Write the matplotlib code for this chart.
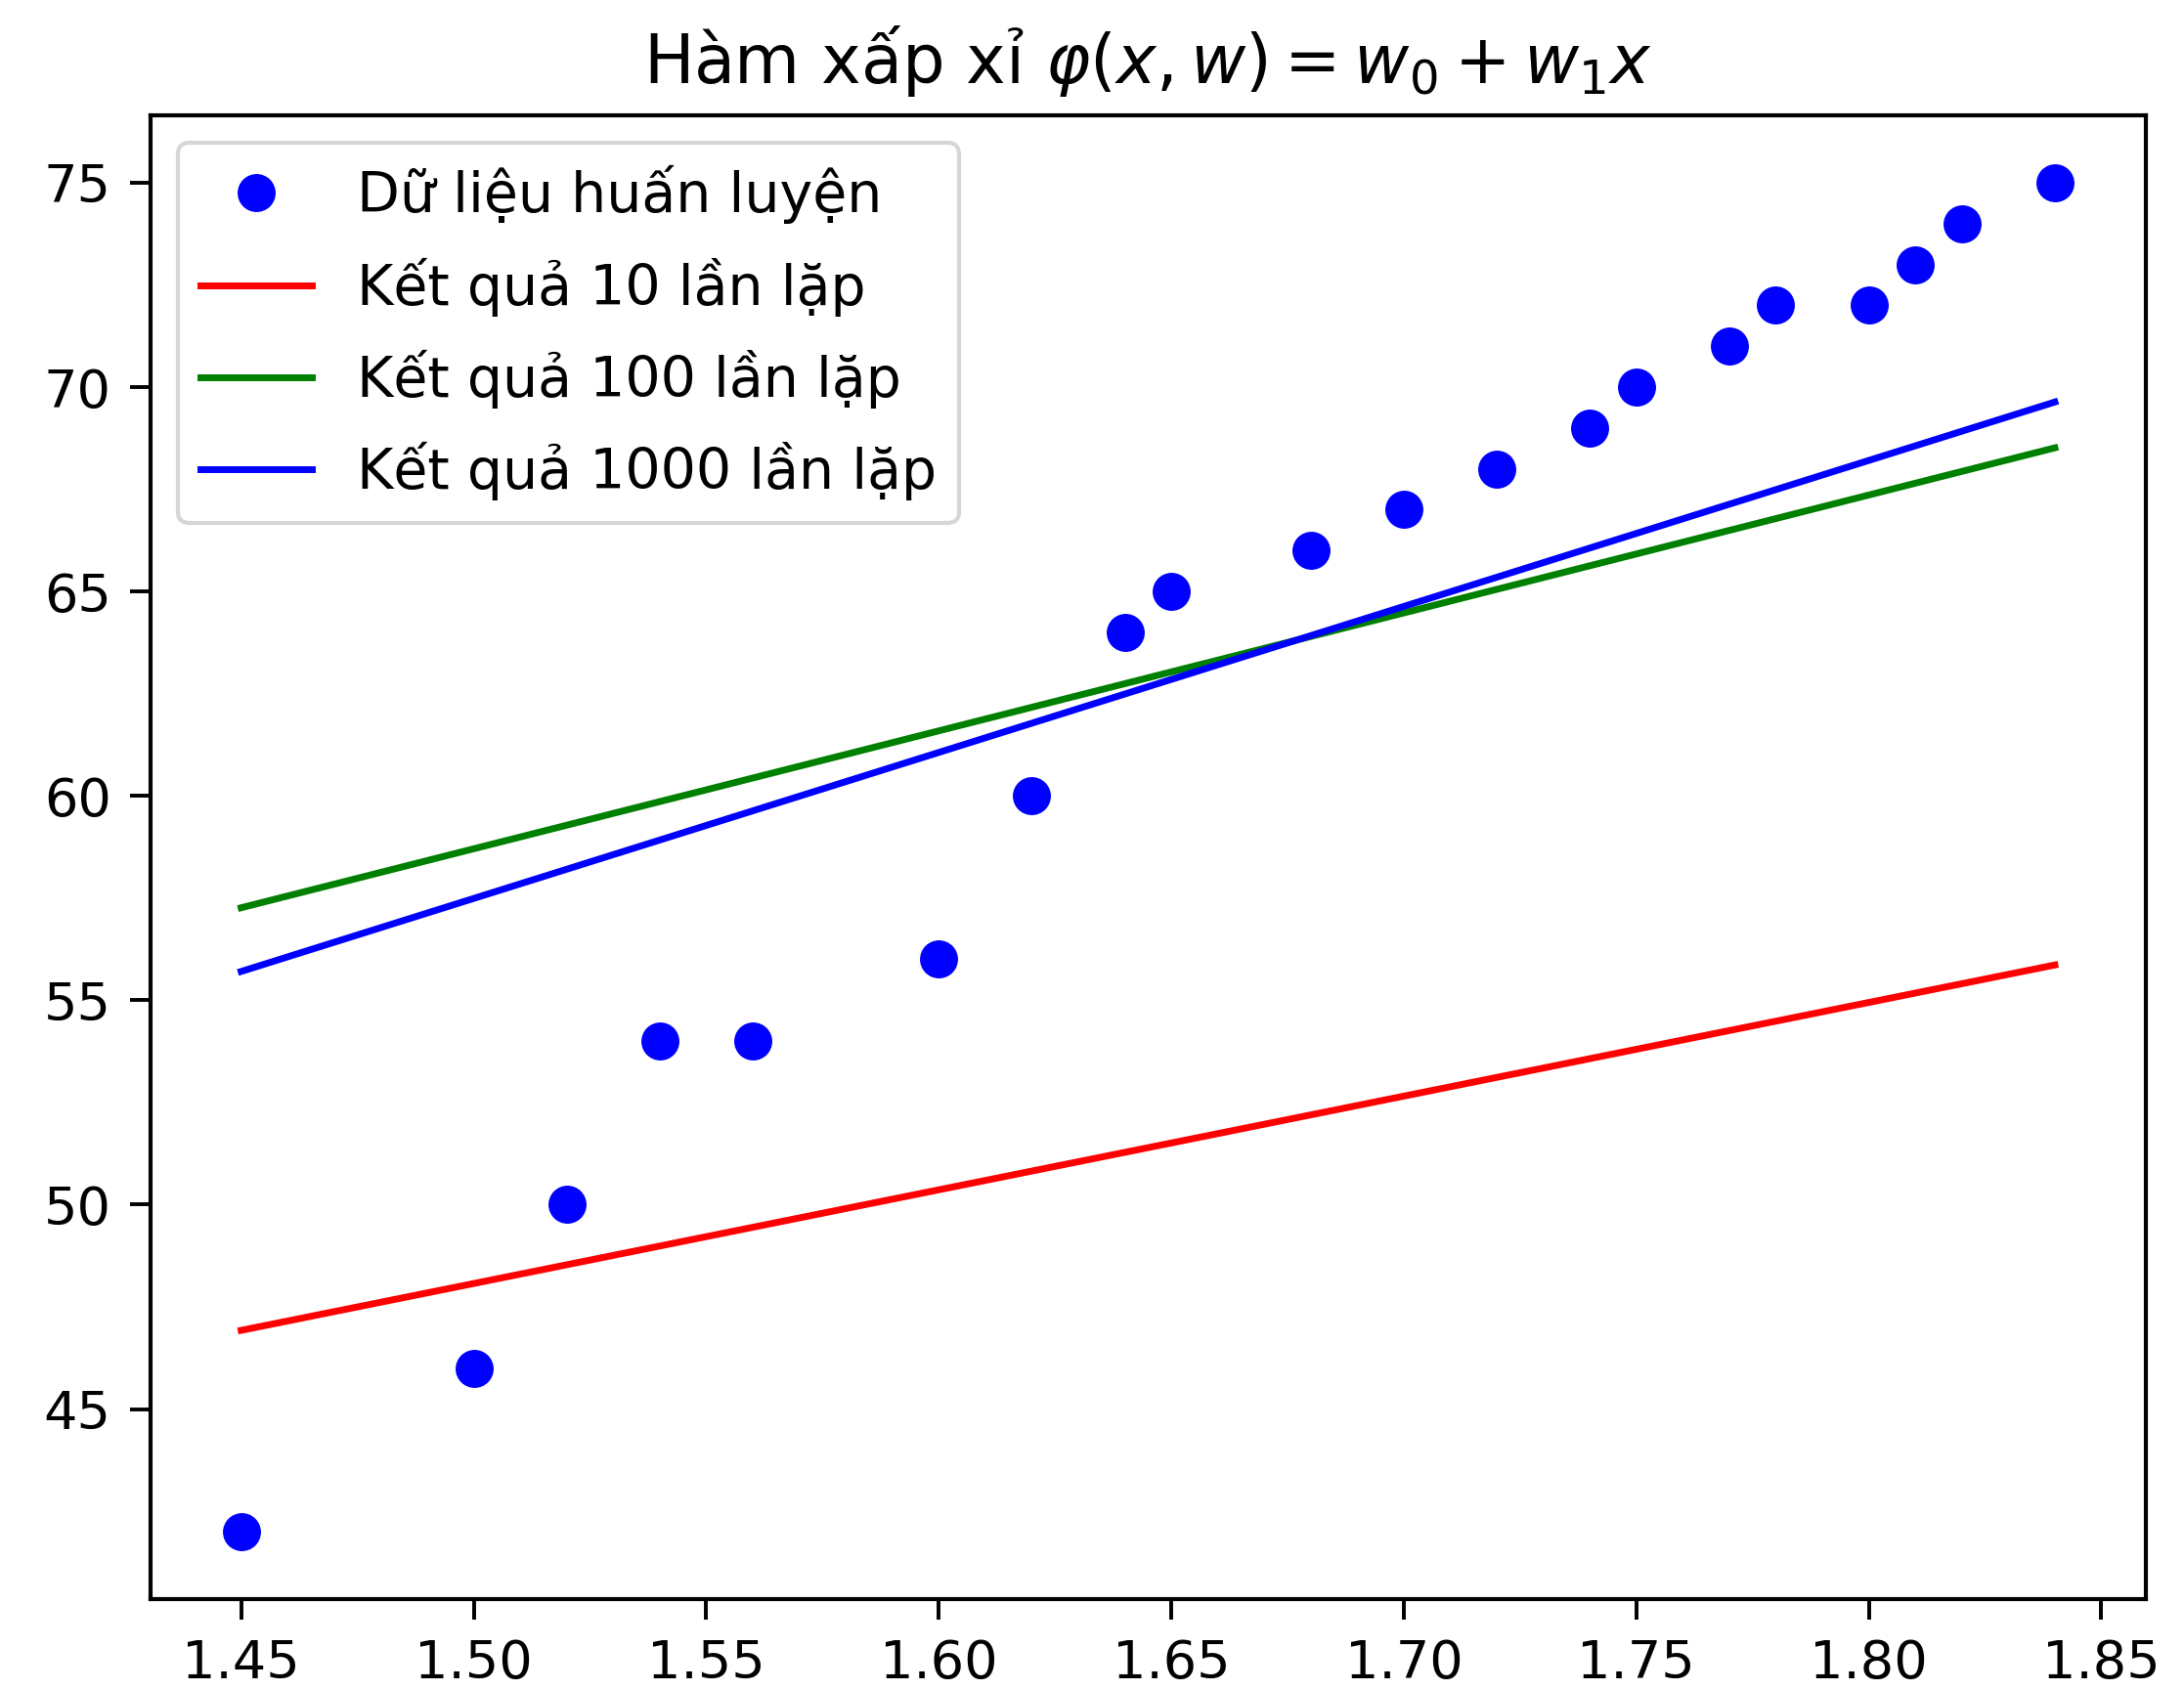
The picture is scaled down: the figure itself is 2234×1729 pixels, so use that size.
import numpy as np
import matplotlib.pyplot as plt

# Training data (height in m, weight in kg)
x_train = [1.45, 1.50, 1.52, 1.54, 1.56, 1.60, 1.62, 1.64, 1.65, 1.68,
           1.70, 1.72, 1.74, 1.75, 1.77, 1.78, 1.80, 1.81, 1.82, 1.84]
y_train = [42, 46, 50, 54, 54, 56, 60, 64, 65, 66,
           67, 68, 69, 70, 71, 72, 72, 73, 74, 75]

# Weights [w0, w1] after 10, 100 and 1000 iterations
w_10 = [13.69, 22.92]
w_100 = [15.43, 28.85]
w_1000 = [3.91, 35.72]

fig = plt.figure(figsize=(22.34, 17.29), dpi=100)
ax = fig.add_axes([0.0689, 0.0538, 0.9135, 0.878])

ax.plot(x_train, y_train, 'bo', markersize=27, label='Dữ liệu huấn luyện')

x_line = np.array([min(x_train), max(x_train)])
ax.plot(x_line, w_10[0] + w_10[1] * x_line, color='red', linewidth=5,
        label='Kết quả 10 lần lặp')
ax.plot(x_line, w_100[0] + w_100[1] * x_line, color='green', linewidth=5,
        label='Kết quả 100 lần lặp')
ax.plot(x_line, w_1000[0] + w_1000[1] * x_line, color='blue', linewidth=5,
        label='Kết quả 1000 lần lặp')

ax.set_xticks([1.45, 1.50, 1.55, 1.60, 1.65, 1.70, 1.75, 1.80, 1.85])
ax.set_yticks([45, 50, 55, 60, 65, 70, 75])
ax.tick_params(labelsize=39, length=15, width=2.8, pad=14)
for spine in ax.spines.values():
    spine.set_linewidth(3)

ax.set_title(r'Hàm xấp xỉ $\varphi(x, w) = w_0 + w_1 x$', fontsize=49.5, pad=24)
leg = ax.legend(loc='upper left', fontsize=41, labelspacing=0.6)
leg.get_frame().set_linewidth(3)

fig.savefig('out.png', dpi=100)
